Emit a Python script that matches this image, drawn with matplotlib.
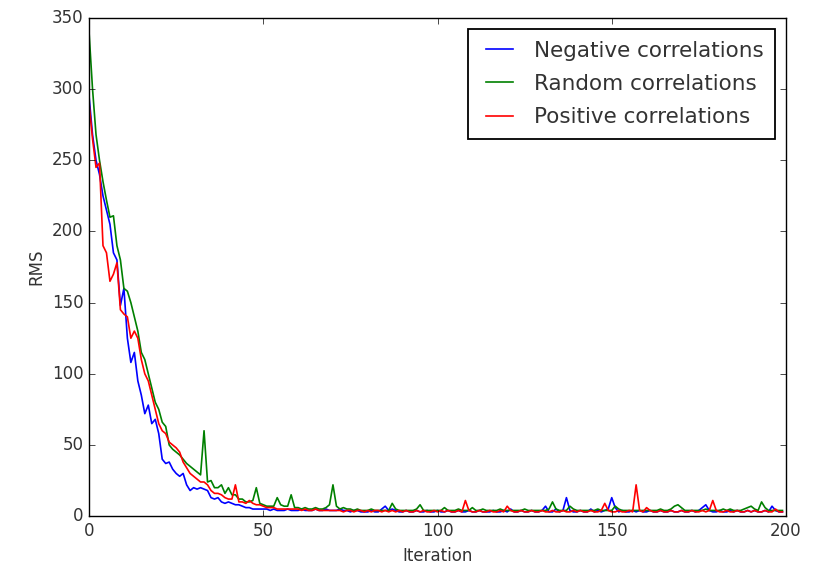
import matplotlib
matplotlib.use('Agg')
import matplotlib.pyplot as plt
import numpy as np

# RMS per iteration
negative = [295, 268, 250, 240, 225, 215, 205, 185, 180, 148,
            160, 125, 108, 115, 95, 85, 72, 78, 65, 68,
            58, 40, 37, 38, 33, 30, 28, 30, 22, 18,
            20, 19, 20, 19, 18, 13, 12, 13, 10, 9,
            10, 9, 8, 8, 7, 6, 6, 5, 5, 5,
            5, 5, 4, 5, 4, 4, 4, 5, 4, 4,
            4, 5, 4, 4, 4, 5, 4, 4, 5, 4,
            4, 4, 5, 4, 4, 3, 4, 4, 3, 3,
            3, 4, 3, 3, 5, 7, 4, 5, 4, 3,
            3, 4, 3, 3, 4, 3, 3, 4, 3, 3,
            4, 3, 3, 4, 3, 3, 4, 3, 3, 4,
            3, 3, 4, 3, 3, 3, 4, 3, 3, 4,
            3, 5, 3, 3, 4, 3, 3, 4, 3, 3,
            4, 7, 3, 3, 5, 3, 4, 13, 4, 3,
            3, 4, 3, 3, 5, 3, 4, 3, 4, 5,
            13, 6, 3, 4, 3, 3, 4, 3, 4, 3,
            3, 4, 3, 3, 4, 3, 3, 4, 3, 3,
            4, 3, 3, 4, 3, 4, 6, 8, 4, 3,
            3, 4, 3, 3, 4, 3, 4, 3, 3, 4,
            3, 4, 3, 3, 4, 3, 7, 4, 3, 3]

random_corr = [340, 300, 268, 250, 235, 222, 210, 211, 190, 180,
               160, 158, 150, 140, 130, 115, 110, 100, 90, 80,
               75, 66, 63, 50, 47, 45, 43, 40, 37, 35,
               33, 31, 29, 60, 24, 25, 20, 20, 22, 16,
               20, 15, 15, 12, 12, 10, 10, 11, 20, 9,
               8, 7, 7, 7, 13, 8, 7, 7, 15, 6,
               6, 5, 6, 5, 5, 6, 5, 5, 6, 8,
               22, 7, 5, 6, 5, 5, 4, 5, 4, 4,
               4, 5, 4, 4, 4, 4, 4, 9, 5, 4,
               4, 4, 4, 4, 5, 8, 4, 4, 4, 4,
               4, 4, 6, 4, 4, 4, 5, 4, 4, 4,
               6, 4, 4, 5, 4, 4, 4, 4, 5, 4,
               4, 4, 4, 4, 4, 5, 4, 4, 4, 4,
               4, 4, 5, 10, 5, 4, 4, 4, 7, 5,
               4, 4, 4, 4, 4, 4, 5, 4, 4, 4,
               4, 7, 5, 4, 4, 4, 4, 4, 4, 4,
               4, 4, 4, 4, 5, 4, 4, 5, 7, 8,
               6, 4, 4, 4, 4, 4, 4, 5, 4, 4,
               4, 4, 5, 4, 5, 4, 4, 4, 5, 6,
               7, 5, 4, 10, 6, 4, 4, 4, 4, 4]

positive = [290, 265, 245, 248, 190, 185, 165, 170, 178, 145,
            142, 140, 125, 130, 125, 110, 100, 95, 85, 75,
            65, 60, 58, 52, 50, 48, 45, 38, 34, 30,
            28, 26, 24, 24, 22, 18, 16, 16, 15, 13,
            12, 12, 22, 10, 10, 9, 11, 9, 8, 8,
            7, 6, 6, 6, 5, 5, 5, 5, 5, 5,
            5, 4, 5, 4, 4, 5, 4, 4, 4, 4,
            4, 4, 4, 3, 4, 4, 3, 4, 4, 3,
            4, 3, 4, 4, 3, 4, 3, 4, 3, 4,
            3, 4, 3, 3, 4, 3, 4, 3, 3, 4,
            3, 4, 3, 4, 3, 3, 4, 3, 11, 4,
            3, 3, 4, 3, 3, 4, 3, 3, 4, 3,
            7, 4, 3, 3, 4, 3, 3, 4, 3, 3,
            4, 3, 3, 4, 3, 3, 4, 3, 3, 4,
            3, 4, 3, 3, 4, 3, 3, 4, 9, 4,
            3, 3, 4, 3, 3, 4, 3, 22, 4, 3,
            6, 4, 3, 3, 4, 3, 3, 4, 3, 3,
            4, 3, 3, 4, 3, 3, 4, 3, 4, 11,
            4, 3, 3, 4, 3, 3, 4, 3, 3, 4,
            3, 4, 3, 3, 4, 3, 3, 5, 3, 3]

iterations = np.arange(len(negative))

plt.style.use('classic')
fig = plt.figure(figsize=(8.17, 5.78), dpi=100, facecolor='white')
ax = fig.add_axes([0.109, 0.107, 0.853, 0.862])

ax.plot(iterations, negative, color='b', lw=1.2, label='Negative correlations')
ax.plot(iterations, random_corr, color='g', lw=1.2, label='Random correlations')
ax.plot(iterations, positive, color='r', lw=1.2, label='Positive correlations')

ax.set_xlim(0, 200)
ax.set_ylim(0, 350)
ax.set_xlabel('Iteration', color='#333333')
ax.set_ylabel('RMS', color='#333333')
ax.tick_params(labelcolor='#333333')
leg = ax.legend(loc='upper right', fontsize=15.5, handlelength=1.85,
                handletextpad=0.65, labelspacing=0.62, borderpad=0.55)
leg.get_frame().set_linewidth(1.3)
for t in leg.get_texts():
    t.set_color('#333333')

fig.savefig('out.png', dpi=100, facecolor='white')
